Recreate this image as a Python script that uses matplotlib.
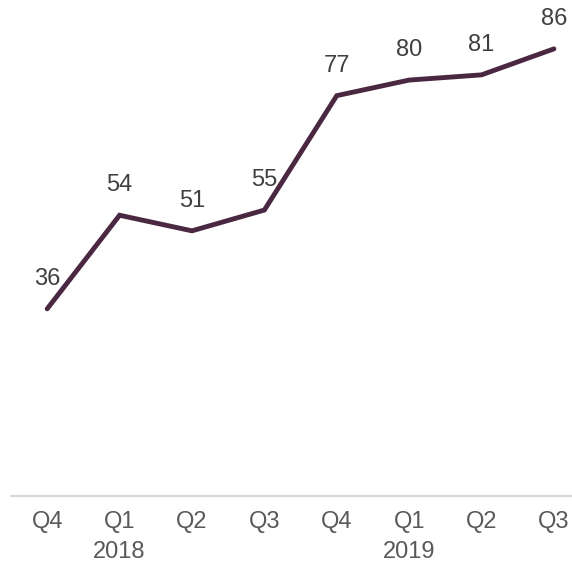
import matplotlib
matplotlib.use("Agg")
import matplotlib.pyplot as plt

quarters = ["Q4", "Q1", "Q2", "Q3", "Q4", "Q1", "Q2", "Q3"]
years = ["", "2018", "", "", "", "2019", "", ""]
values = [36, 54, 51, 55, 77, 80, 81, 86]

plt.rcParams['font.family'] = ['Liberation Sans', 'DejaVu Sans']

fig = plt.figure(figsize=(5.72, 5.65), dpi=100)
ax = fig.add_axes([11/572, 69/565, 1 - 11/572, 1 - 69/565])

x = list(range(len(values)))
ax.plot(x, values, color="#4B2842", linewidth=3.5, solid_capstyle="round", solid_joinstyle="miter")

for xi, v in zip(x, values):
    ax.annotate(str(v), (xi, v), xytext=(0, 21.5), textcoords="offset points",
                ha="center", va="center", fontsize=17, color="#404040")

ax.set_xlim(-0.5, 7.25)
ax.set_ylim(0, 95.4)
ax.set_xticks(x)
ax.set_xticklabels([q + ("\n" + y if y else "") for q, y in zip(quarters, years)],
                   fontsize=17, color="#595959", va="top", linespacing=1.45)
ax.tick_params(axis="x", length=0, pad=11)
ax.set_yticks([])
for s in ["left", "right", "top"]:
    ax.spines[s].set_visible(False)
ax.spines["bottom"].set_color("#D9D9D9")
ax.spines["bottom"].set_linewidth(1.5)
ax.patch.set_visible(False)

fig.savefig("out.png", dpi=100)
